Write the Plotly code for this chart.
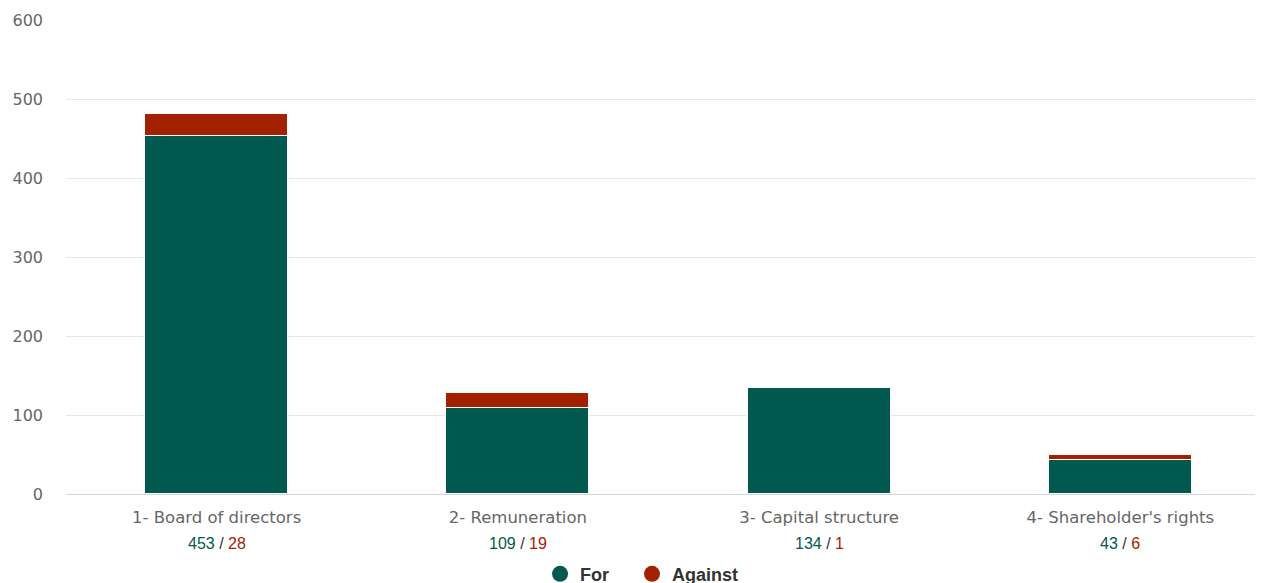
import plotly.graph_objects as go

categories = ["1- Board of directors", "2- Remuneration", "3- Capital structure", "4- Shareholder's rights"]
for_votes = [453, 109, 134, 43]
against_votes = [28, 19, 1, 6]
y_ticks = [0, 100, 200, 300, 400, 500, 600]

GREEN = "#02594f"
RED = "#a32100"
pos = list(range(len(categories)))

fig = go.Figure()
fig.add_trace(go.Bar(x=pos, y=for_votes, name="For", marker=dict(color=GREEN, line=dict(color="white", width=1)),
                     width=0.475, showlegend=False))
fig.add_trace(go.Bar(x=pos, y=against_votes, name="Against", marker=dict(color=RED, line=dict(color="white", width=1)),
                     width=0.475, showlegend=False))
# legend entries with circle symbols
fig.add_trace(go.Scatter(x=[None], y=[None], mode="markers", name="For", legend="legend",
                         marker=dict(color=GREEN, size=18, symbol="circle")))
fig.add_trace(go.Scatter(x=[None], y=[None], mode="markers", name="Against", legend="legend2",
                         marker=dict(color=RED, size=18, symbol="circle")))

for i, (f, a) in enumerate(zip(for_votes, against_votes)):
    fig.add_annotation(x=i, xref="x", y=-0.104, yref="paper", yanchor="middle", showarrow=False,
                       text=f"<span style='color:{GREEN}'>{f}</span> / <span style='color:{RED}'>{a}</span>",
                       font=dict(family="Liberation Sans, Arial", size=16, color="#333333"))

legend_style = dict(orientation="h", xanchor="left", y=-0.169, yanchor="middle",
                    font=dict(family="Liberation Sans, Arial", size=18, color="#333333", weight="bold"),
                    itemwidth=30, bgcolor="rgba(0,0,0,0)")

fig.update_layout(
    barmode="stack",
    width=1263, height=583,
    margin=dict(l=58, r=0, t=12, b=97, autoexpand=False),
    paper_bgcolor="white", plot_bgcolor="white",
    bargap=0,
    legend=dict(x=0.3934, **legend_style),
    legend2=dict(x=0.4697, **legend_style),
    xaxis=dict(range=[-0.5, 3.5], tickvals=pos, ticktext=categories, showgrid=False,
               showline=True, linecolor="#d6d6d6", linewidth=1, ticks="", zeroline=False,
               ticklabelstandoff=8,
               tickfont=dict(family="DejaVu Sans", size=16.5, color="#666666")),
    yaxis=dict(range=[0, 600], tickvals=y_ticks, showgrid=True, gridcolor="#e6e6e6", gridwidth=1,
               zeroline=False, ticks="", ticklabelstandoff=22,
               tickfont=dict(family="DejaVu Sans", size=16, color="#666666")),
)

fig.write_html("out.html")
